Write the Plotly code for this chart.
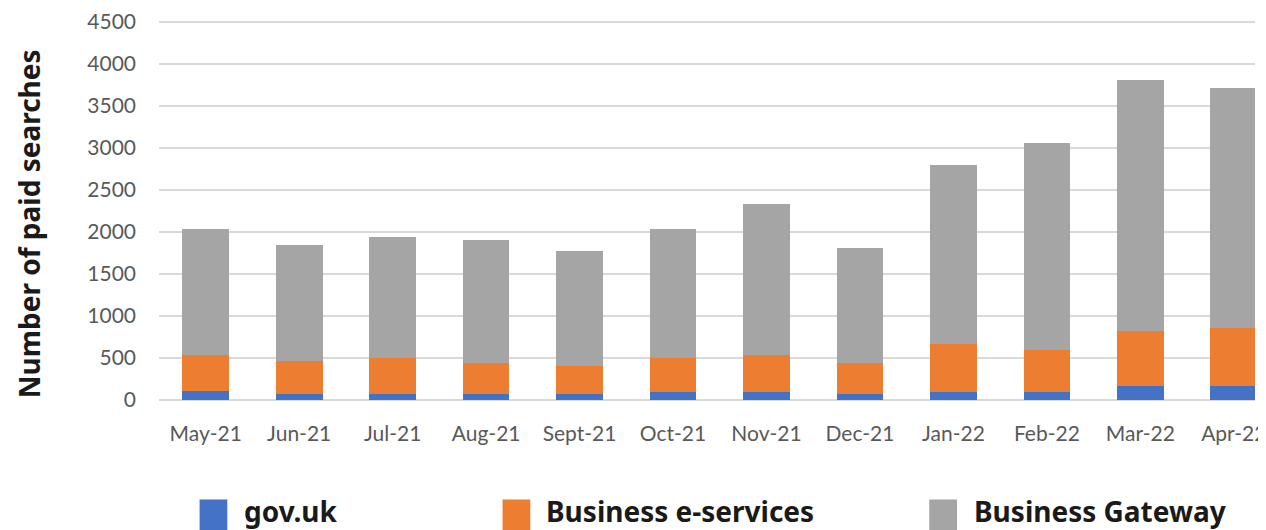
import plotly.graph_objects as go

months = ["May-21", "Jun-21", "Jul-21", "Aug-21", "Sept-21", "Oct-21",
          "Nov-21", "Dec-21", "Jan-22", "Feb-22", "Mar-22", "Apr-22"]
gov_uk = [110, 75, 75, 75, 75, 100, 100, 75, 100, 100, 165, 165]
business_eservices = [430, 390, 420, 360, 325, 395, 430, 360, 565, 495, 660, 695]
business_gateway = [1500, 1380, 1445, 1470, 1375, 1545, 1805, 1375, 2130, 2460, 2985, 2855]
series_names = ["gov.uk", "Business e-services", "Business Gateway"]
series_colors = ["#4472C4", "#ED7D31", "#A5A5A5"]
y_ticks = [0, 500, 1000, 1500, 2000, 2500, 3000, 3500, 4000, 4500]

# page body has an 8px margin; work in page pixel coordinates
OFF = 8
PAGE_W, PAGE_H = 1266, 530
W, H = PAGE_W - OFF, PAGE_H - OFF
PLOT_L, PLOT_T, PLOT_B = 159, 19, 400          # page coords
L, T, B = PLOT_L - OFF, PLOT_T - OFF, H - (PLOT_B - OFF)
PW, PH = W - L, PLOT_B - PLOT_T
Y_MAX = 4512

fig = go.Figure()
for name, vals, col in zip(series_names, [gov_uk, business_eservices, business_gateway], series_colors):
    fig.add_trace(go.Bar(x=months, y=vals, name=name, marker=dict(color=col, line=dict(width=0)),
                         width=0.5, showlegend=False))

def px_x(p):
    return (p - PLOT_L) / PW

def px_y(p):
    return (PLOT_B - p) / PH

# manual legend (large square swatches)
legend_pos = [(200, 243), (506, 548), (937, 980)]
for (sx, tx), name, col in zip(legend_pos, series_names, series_colors):
    fig.add_shape(type="rect", xref="paper", yref="paper",
                  x0=px_x(sx), x1=px_x(sx + 28), y0=px_y(531), y1=px_y(500),
                  fillcolor=col, line=dict(width=0), layer="above")
    fig.add_annotation(xref="paper", yref="paper", x=px_x(tx), y=px_y(512),
                       xanchor="left", yanchor="middle", text=name, showarrow=False,
                       font=dict(family="Noto Sans", size=28, color="#1a1a1a", weight="bold"))

fig.add_annotation(xref="paper", yref="paper", x=px_x(28), y=px_y(223),
                   xanchor="center", yanchor="middle", text="Number of paid searches",
                   textangle=-90, showarrow=False,
                   font=dict(family="Noto Sans", size=28, color="#1a1a1a", weight="bold"))

fig.update_layout(
    barmode="stack",
    width=W, height=H,
    margin=dict(l=L, r=0, t=T, b=B),
    paper_bgcolor="white", plot_bgcolor="white",
    font=dict(family="Lato", size=21, color="#595959"),
    xaxis=dict(range=[-0.5, -0.5 + PW / 94.4], showgrid=False, showline=False,
               ticks="", ticklabelstandoff=19, tickfont=dict(size=21, color="#595959")),
    yaxis=dict(range=[0, Y_MAX], tickvals=y_ticks, showgrid=True, gridcolor="#d9d9d9",
               gridwidth=1.5, zeroline=True, zerolinecolor="#d9d9d9", zerolinewidth=1.5,
               showline=False, ticks="", ticklabelstandoff=22, ticklabeloverflow="allow",
               tickfont=dict(size=21, color="#595959")),
)

fig.write_html("out.html")
